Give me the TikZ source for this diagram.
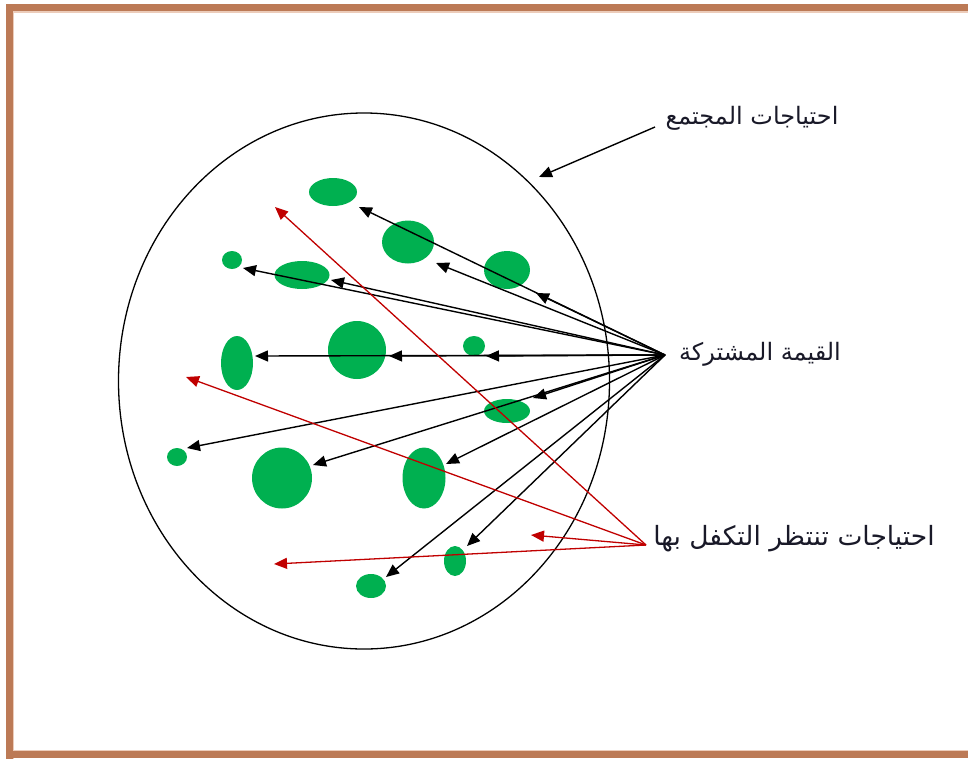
\documentclass[tikz,border=0pt]{standalone}
\usepackage{fontspec}
\usetikzlibrary{arrows.meta,shapes.geometric}
\TeXXeTstate=1
\newfontfamily\arabicfont[Script=Arabic]{DejaVu Sans}
\definecolor{framebrown}{RGB}{188,122,86}
\definecolor{framelight}{RGB}{236,204,186}
\definecolor{blobgreen}{RGB}{0,176,80}
\definecolor{needred}{RGB}{192,0,0}
\definecolor{labelink}{RGB}{25,25,40}
\tikzset{
  blob/.style={ellipse, fill=blobgreen, draw=none, inner sep=0pt},
  blk/.style={draw=black, line width=1.4pt, -{Triangle[length=13pt,width=11pt]}},
  redarr/.style={draw=needred, line width=1.3pt, -{Triangle[length=13pt,width=11pt]}},
  lbl/.style={font=\arabicfont\fontsize{24}{28}\selectfont, text=labelink, inner sep=0pt}
}
\begin{document}
\begin{tikzpicture}[x=1pt,y=-1pt]
\useasboundingbox (0,0) rectangle (968,758);
\begin{scope}
\clip (0,0) rectangle (968,758);
\draw[framelight, line width=1.5pt] (13.3,770) -- (13.3,11.8) -- (980,11.8);
\draw[framelight, line width=1.5pt] (13.3,750.8) -- (980,750.8);
\draw[framebrown, line width=6.6pt] (9.3,770) -- (9.3,7.5) -- (980,7.5);
\draw[framebrown, line width=6.6pt] (6,754.6) -- (980,754.6);
\end{scope}

% society needs
\node[ellipse, draw=black, line width=1.3pt, minimum width=491pt, minimum height=536pt, inner sep=0pt] (society) at (364,381) {};

% green blobs
\node[blob, minimum width=48pt, minimum height=28pt] (g1) at (333,192) {};
\node[blob, minimum width=52pt, minimum height=43pt] (g2) at (408,242) {};
\node[blob, minimum width=46pt, minimum height=38pt] (g3) at (507,270) {};
\node[blob, minimum width=20pt, minimum height=18pt] (g4) at (232,260) {};
\node[blob, minimum width=55pt, minimum height=28pt] (g5) at (302,275) {};
\node[blob, minimum width=32pt, minimum height=54pt] (g6) at (237,363) {};
\node[blob, minimum width=58pt, minimum height=58pt] (g7) at (357,350) {};
\node[blob, minimum width=22pt, minimum height=20pt] (g8) at (474,346) {};
\node[blob, minimum width=46pt, minimum height=24pt] (g9) at (507,411) {};
\node[blob, minimum width=20pt, minimum height=18pt] (g10) at (177,457) {};
\node[blob, minimum width=60pt, minimum height=61pt] (g11) at (282,478) {};
\node[blob, minimum width=43pt, minimum height=61pt] (g12) at (424,478) {};
\node[blob, minimum width=22pt, minimum height=30pt] (g13) at (455,561) {};
\node[blob, minimum width=30pt, minimum height=24pt] (g14) at (371,586) {};

% labels
\node[lbl] (needs) at (752,118) {\beginR احتياجات المجتمع\endR};
\node[lbl] (shared) at (760,354) {\beginR القيمة المشتركة\endR};
\node[lbl, font=\arabicfont\fontsize{26.5}{30}\selectfont] (waiting) at (794,539) {\beginR احتياجات تنتظر التكفل بها\endR};

% hubs and tips
\coordinate (hub) at (665,355);
\coordinate (redhub) at (646,545);
\coordinate (ns) at (655,127);
\coordinate (nt) at (539,177);

\coordinate (tA) at (359,207);
\coordinate (tB) at (536,293);
\coordinate (tC) at (436,263);
\coordinate (tD) at (243,268);
\coordinate (tE) at (331,280);
\coordinate (tH1) at (255,356);
\coordinate (tH2) at (389,356);
\coordinate (tH3) at (486,356);
\coordinate (tL1) at (187,448);
\coordinate (tL2) at (533,398);
\coordinate (tL3) at (313,465);
\coordinate (tL4) at (446,464);
\coordinate (tL5) at (467,546);
\coordinate (tL6) at (386,577);

\coordinate (r1) at (275,207);
\coordinate (r2) at (186,377);
\coordinate (r3) at (531,535);
\coordinate (r4) at (274,564);

\draw[blk] (ns) -- (nt);
\foreach \t in {tA,tB,tC,tD,tE,tH1,tH2,tH3,tL1,tL2,tL3,tL4,tL5,tL6}
  \draw[blk] (hub) -- (\t);
\foreach \t in {r1,r2,r3,r4}
  \draw[redarr] (redhub) -- (\t);
\end{tikzpicture}
\end{document}
